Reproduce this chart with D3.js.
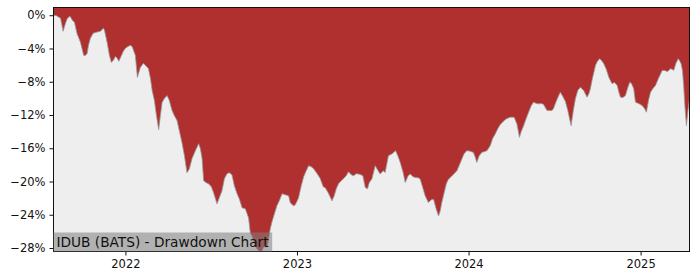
<!doctype html>
<html lang="en">
  <head>
    <meta charset="UTF-8" />
    <title>IDUB (BATS) - Drawdown Chart</title>
    <script src="https://cdn.jsdelivr.net/npm/d3@7"></script>
    <style>
      body { margin: 0; background: #fff; }
      #graph-wrapper { width: 700px; height: 280px; }
      text { font-family: "DejaVu Sans", sans-serif; }
    </style>
  </head>
  <body>
    <div id="graph-wrapper"></div>
    <script>
      // decimal years
      const years = [
        2021.581, 2021.598, 2021.622, 2021.637, 2021.651, 2021.662, 2021.677, 2021.691, 2021.703, 2021.719,
        2021.726, 2021.738, 2021.757, 2021.767, 2021.777, 2021.785, 2021.796, 2021.812, 2021.831, 2021.854,
        2021.872, 2021.878, 2021.893, 2021.907, 2021.918, 2021.930, 2021.942, 2021.953, 2021.962, 2021.977,
        2021.988, 2022.000, 2022.017, 2022.032, 2022.041, 2022.058, 2022.070, 2022.087, 2022.105, 2022.116,
        2022.134, 2022.146, 2022.156, 2022.169, 2022.181, 2022.194, 2022.204, 2022.214, 2022.227, 2022.243,
        2022.256, 2022.272, 2022.285, 2022.301, 2022.314, 2022.330, 2022.344, 2022.359, 2022.373, 2022.388,
        2022.408, 2022.427, 2022.437, 2022.447, 2022.456, 2022.472, 2022.485, 2022.501, 2022.514, 2022.534,
        2022.547, 2022.563, 2022.577, 2022.592, 2022.606, 2022.621, 2022.635, 2022.651, 2022.664, 2022.680,
        2022.699, 2022.718, 2022.728, 2022.740, 2022.751, 2022.767, 2022.780, 2022.796, 2022.806, 2022.825,
        2022.833, 2022.844, 2022.856, 2022.874, 2022.883, 2022.897, 2022.913, 2022.932, 2022.951, 2022.961,
        2022.980, 2022.990, 2023.009, 2023.025, 2023.039, 2023.054, 2023.068, 2023.083, 2023.097, 2023.118,
        2023.136, 2023.153, 2023.165, 2023.182, 2023.204, 2023.217, 2023.229, 2023.242, 2023.258, 2023.271,
        2023.287, 2023.300, 2023.316, 2023.330, 2023.345, 2023.359, 2023.372, 2023.384, 2023.398, 2023.411,
        2023.421, 2023.437, 2023.456, 2023.473, 2023.485, 2023.503, 2023.514, 2023.533, 2023.553, 2023.575,
        2023.590, 2023.602, 2023.619, 2023.631, 2023.648, 2023.660, 2023.677, 2023.689, 2023.706, 2023.718,
        2023.735, 2023.747, 2023.766, 2023.782, 2023.796, 2023.811, 2023.825, 2023.835, 2023.844, 2023.858,
        2023.870, 2023.881, 2023.893, 2023.910, 2023.932, 2023.945, 2023.961, 2023.974, 2023.990, 2024.009,
        2024.028, 2024.038, 2024.048, 2024.062, 2024.077, 2024.091, 2024.107, 2024.126, 2024.140, 2024.155,
        2024.170, 2024.184, 2024.201, 2024.219, 2024.242, 2024.265, 2024.281, 2024.296, 2024.306, 2024.320,
        2024.335, 2024.349, 2024.365, 2024.378, 2024.394, 2024.407, 2024.423, 2024.436, 2024.456, 2024.469,
        2024.485, 2024.494, 2024.504, 2024.519, 2024.533, 2024.548, 2024.563, 2024.577, 2024.596, 2024.609,
        2024.621, 2024.635, 2024.650, 2024.669, 2024.689, 2024.700, 2024.708, 2024.720, 2024.738, 2024.749,
        2024.762, 2024.772, 2024.786, 2024.801, 2024.815, 2024.834, 2024.848, 2024.864, 2024.874, 2024.883,
        2024.897, 2024.912, 2024.924, 2024.937, 2024.947, 2024.960, 2024.970, 2024.988, 2025.009, 2025.023,
        2025.034, 2025.046, 2025.058, 2025.072, 2025.087, 2025.104, 2025.126, 2025.139, 2025.155, 2025.165,
        2025.174, 2025.186, 2025.193, 2025.206, 2025.219, 2025.226, 2025.236, 2025.244, 2025.251, 2025.258,
        2025.267, 2025.276, 2025.285
      ];

      // drawdown in percent
      const drawdown = [
        0.00, -0.06, -0.36, -1.93, -0.97, -0.36, -0.12, -0.60, -0.84, -2.29,
        -2.62, -3.26, -4.83, -4.83, -4.59, -3.62, -2.78, -2.17, -2.05, -1.93,
        -1.57, -1.81, -3.22, -4.83, -5.67, -5.43, -4.95, -5.19, -5.55, -4.83,
        -4.34, -3.98, -3.74, -3.62, -3.86, -4.83, -7.48, -6.28, -5.79, -6.03,
        -6.40, -7.60, -9.05, -10.26, -12.07, -13.76, -12.07, -10.50, -10.02, -9.66,
        -10.26, -11.47, -12.07, -12.67, -13.88, -15.33, -16.90, -18.95, -18.47, -17.26,
        -16.29, -15.45, -16.05, -17.26, -19.91, -20.16, -20.28, -20.64, -21.36, -22.69,
        -21.97, -21.12, -19.67, -19.07, -18.95, -19.19, -20.52, -21.48, -22.09, -23.17,
        -23.29, -24.38, -26.19, -26.67, -27.40, -28.12, -28.36, -28.36, -27.88, -27.88,
        -27.16, -25.71, -24.74, -23.53, -22.93, -22.33, -21.48, -21.60, -21.72, -22.57,
        -22.93, -22.81, -21.97, -20.52, -19.43, -18.71, -18.10, -18.22, -18.47, -19.07,
        -19.67, -20.64, -20.76, -21.36, -22.33, -21.72, -20.88, -20.28, -19.91, -19.67,
        -19.31, -18.83, -19.19, -19.31, -19.07, -19.11, -19.19, -19.31, -20.72, -20.88,
        -20.16, -19.67, -18.10, -18.71, -19.11, -18.71, -18.91, -16.90, -16.69, -16.29,
        -17.02, -17.71, -18.95, -20.12, -19.31, -19.11, -19.43, -19.52, -19.55, -19.71,
        -20.88, -21.72, -22.53, -22.21, -22.12, -23.29, -24.14, -23.53, -22.53, -21.36,
        -20.31, -19.79, -19.52, -19.19, -18.71, -18.10, -17.29, -16.66, -16.29, -16.35,
        -16.50, -17.02, -17.71, -16.90, -16.50, -16.41, -16.29, -15.69, -14.84, -14.28,
        -13.64, -13.16, -12.79, -12.47, -12.27, -12.27, -13.07, -14.69, -14.00, -13.28,
        -12.43, -11.67, -10.86, -10.46, -10.62, -10.66, -10.62, -10.74, -11.47, -11.47,
        -11.47, -11.22, -10.66, -9.90, -9.26, -9.78, -10.38, -11.47, -13.28, -11.47,
        -10.05, -9.05, -8.65, -9.05, -9.86, -9.41, -8.85, -7.60, -6.03, -5.55,
        -5.23, -5.43, -5.83, -6.52, -7.45, -8.24, -8.09, -8.45, -9.29, -9.86,
        -9.90, -9.66, -8.81, -8.05, -8.21, -8.85, -10.46, -10.62, -10.86, -11.22,
        -11.67, -10.26, -9.26, -8.81, -8.45, -7.60, -6.64, -6.64, -6.76, -6.64,
        -6.43, -6.52, -6.64, -5.79, -5.23, -5.43, -5.83, -6.64, -8.45, -10.86,
        -13.28, -11.47, -10.05
      ];

      const yTicks = [0, -4, -8, -12, -16, -20, -24, -28];
      const xTickYears = [2022, 2023, 2024, 2025];
      const title = "IDUB (BATS) - Drawdown Chart";

      // decimal year -> Date
      function toDate(dy) {
        const y = Math.floor(dy);
        const start = new Date(y, 0, 1).getTime();
        const end = new Date(y + 1, 0, 1).getTime();
        return new Date(start + (dy - y) * (end - start));
      }

      const data = years.map((yr, i) => ({ date: toDate(yr), value: drawdown[i] }));

      const width = 700;
      const height = 280;
      const marginTop = 7.5;
      const marginRight = 10.5;
      const marginBottom = 28.5;
      const marginLeft = 53.5;

      const x = d3.scaleTime()
        .domain(d3.extent(data, d => d.date))
        .range([marginLeft, width - marginRight]);

      const y = d3.scaleLinear()
        .domain([-28.42, 0.93])
        .range([height - marginBottom, marginTop]);

      const svg = d3.select("#graph-wrapper").append("svg")
        .attr("width", width)
        .attr("height", height);

      // plot background
      svg.append("rect")
        .attr("x", marginLeft)
        .attr("y", marginTop)
        .attr("width", width - marginRight - marginLeft)
        .attr("height", height - marginBottom - marginTop)
        .attr("fill", "#eeeeee");

      // red fill from top of axes down to the drawdown
      const area = d3.area()
        .x(d => x(d.date))
        .y0(y(y.domain()[1]))
        .y1(d => y(d.value));

      svg.append("path")
        .datum(data)
        .attr("fill", "#b03030")
        .attr("d", area);

      const line = d3.line()
        .x(d => x(d.date))
        .y(d => y(d.value));

      svg.append("path")
        .datum(data)
        .attr("fill", "none")
        .attr("stroke", "#999")
        .attr("stroke-width", 0.8)
        .attr("d", line);

      // axes
      const xAxis = d3.axisBottom(x)
        .tickValues(xTickYears.map(yr => new Date(yr, 0, 1)))
        .tickFormat(d3.timeFormat("%Y"))
        .tickSize(4)
        .tickPadding(4);

      const yAxis = d3.axisLeft(y)
        .tickValues(yTicks)
        .tickFormat(d => (d < 0 ? "\u2212" + Math.abs(d) : d) + "%")
        .tickSize(4)
        .tickPadding(4);

      const gx = svg.append("g")
        .attr("transform", `translate(0,${height - marginBottom})`)
        .call(xAxis);

      const gy = svg.append("g")
        .attr("transform", `translate(${marginLeft},0)`)
        .call(yAxis);

      [gx, gy].forEach(g => {
        g.select(".domain").remove();
        g.selectAll("text")
          .attr("fill", "#111")
          .style("font-family", "DejaVu Sans")
          .style("font-size", "11.5px");
        g.selectAll("line").attr("stroke", "#111");
      });

      // frame
      svg.append("rect")
        .attr("x", marginLeft)
        .attr("y", marginTop)
        .attr("width", width - marginRight - marginLeft)
        .attr("height", height - marginBottom - marginTop)
        .attr("fill", "none")
        .attr("stroke", "#111")
        .attr("stroke-width", 1);

      // title label in lower-left corner
      const label = svg.append("g");
      const labelText = label.append("text")
        .text(title)
        .attr("x", marginLeft + 3)
        .attr("y", height - marginBottom - 5)
        .attr("fill", "#111")
        .style("font-family", "DejaVu Sans")
        .style("font-size", "13.7px");

      const bb = labelText.node().getBBox();
      label.insert("rect", "text")
        .attr("x", marginLeft)
        .attr("y", height - marginBottom - 19)
        .attr("width", bb.width + 6)
        .attr("height", 19)
        .attr("fill", "rgba(128,128,128,0.55)");
    </script>
  </body>
</html>
